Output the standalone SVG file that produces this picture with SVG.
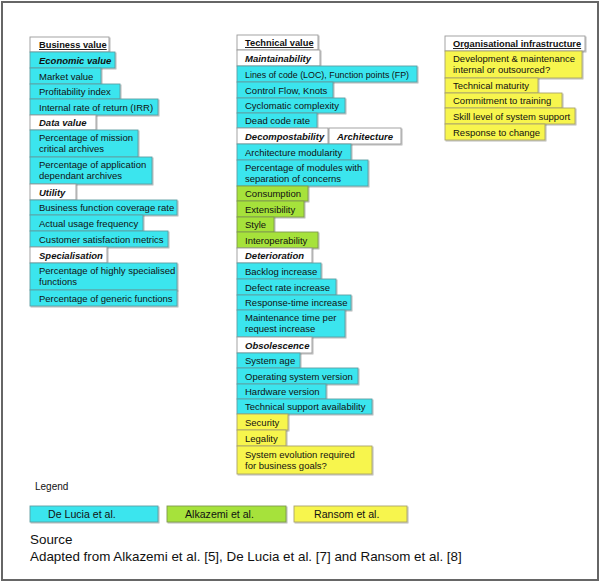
<svg xmlns="http://www.w3.org/2000/svg" width="600" height="582" viewBox="0 0 600 582">
<style>
rect.c{fill:#3be5ee;stroke:#5d9ea3;stroke-width:0.9}
rect.g{fill:#a6e23a;stroke:#7f9a50;stroke-width:0.9}
rect.y{fill:#f7f54e;stroke:#a9a46a;stroke-width:0.9}
rect.w{fill:#ffffff;stroke:#9a9a9a;stroke-width:0.9}
rect.sh{filter:url(#ds)}
text{font-family:"Liberation Sans",Arial,sans-serif;font-size:9.5px;fill:#111}
text.h{font-weight:bold;text-decoration:underline;font-size:9.3px}
text.s{font-weight:bold;font-style:italic}
text.lg{font-size:10px}
text.lb{font-size:10.6px}
text.src{font-size:13.4px}
</style>
<defs>
<filter id="ds" x="-5%" y="-10%" width="115%" height="140%">
<feDropShadow dx="1" dy="1" stdDeviation="0.6" flood-color="#000" flood-opacity="0.3"/>
</filter>
</defs>
<rect x="2" y="2" width="596" height="578" fill="#fff" stroke="#666" stroke-width="2"/>

<g id="col-business">
<g id="n-business-value"><rect class="w sh" x="30" y="37" width="79" height="15"/><text class="h" x="39" y="48">Business value</text></g>
<g id="n-economic-value"><rect class="c sh" x="30" y="52" width="85" height="16"/><text class="s" x="39" y="63.5">Economic value</text></g>
<g id="n-market-value"><rect class="c sh" x="30" y="68" width="71" height="16"/><text x="39" y="79.5">Market value</text></g>
<g id="n-profitability"><rect class="c sh" x="30" y="84" width="90" height="15"/><text x="39" y="95">Profitability index</text></g>
<g id="n-irr"><rect class="c sh" x="30" y="99" width="128" height="16"/><text x="39" y="110.5">Internal rate of return (IRR)</text></g>
<g id="n-data-value"><rect class="w sh" x="30" y="115" width="66" height="15"/><text class="s" x="39" y="126">Data value</text></g>
<g id="n-mission"><rect class="c sh" x="30" y="130" width="108" height="27"/><text x="39" y="141">Percentage of mission</text><text x="39" y="152">critical archives</text></g>
<g id="n-application"><rect class="c sh" x="30" y="157" width="122" height="27"/><text x="39" y="168">Percentage of application</text><text x="39" y="179">dependant archives</text></g>
<g id="n-utility"><rect class="w sh" x="30" y="184" width="46" height="16"/><text class="s" x="39" y="195.5">Utility</text></g>
<g id="n-coverage"><rect class="c sh" x="30" y="200" width="147" height="15"/><text x="39" y="211">Business function coverage rate</text></g>
<g id="n-usage"><rect class="c sh" x="30" y="215" width="113" height="16"/><text x="39" y="226.5">Actual usage frequency</text></g>
<g id="n-satisfaction"><rect class="c sh" x="30" y="231" width="138" height="16"/><text x="39" y="242.5">Customer satisfaction metrics</text></g>
<g id="n-specialisation"><rect class="w sh" x="30" y="247" width="77" height="16"/><text class="s" x="39" y="258.5">Specialisation</text></g>
<g id="n-highly"><rect class="c sh" x="30" y="263" width="147" height="27"/><text x="39" y="274">Percentage of highly specialised</text><text x="39" y="285">functions</text></g>
<g id="n-generic"><rect class="c sh" x="30" y="290" width="147" height="16"/><text x="39" y="301.5">Percentage of generic functions</text></g>
</g>

<g id="col-technical">
<g id="n-technical-value"><rect class="w sh" x="237" y="35" width="81" height="15"/><text class="h" x="245" y="46">Technical value</text></g>
<g id="n-maintainability"><rect class="w sh" x="237" y="50" width="83" height="16"/><text class="s" x="245" y="61.5">Maintainability</text></g>
<g id="n-loc"><rect class="c sh" x="237" y="66" width="180" height="16"/><text x="245" y="77.5" textLength="164" lengthAdjust="spacingAndGlyphs">Lines of code (LOC), Function points (FP)</text></g>
<g id="n-control-flow"><rect class="c sh" x="237" y="82" width="96" height="16"/><text x="245" y="93.5">Control Flow, Knots</text></g>
<g id="n-cyclomatic"><rect class="c sh" x="237" y="98" width="108" height="15"/><text x="245" y="109">Cyclomatic complexity</text></g>
<g id="n-dead-code"><rect class="c sh" x="237" y="113" width="80" height="15"/><text x="245" y="124">Dead code rate</text></g>
<g id="n-decompostability"><rect class="w sh" x="237" y="128" width="91" height="16"/><text class="s" x="245" y="139.5">Decompostability</text></g>
<g id="n-architecture"><rect class="w sh" x="329" y="128" width="72" height="16"/><text class="s" x="337" y="139.5">Architecture</text></g>
<g id="n-modularity"><rect class="c sh" x="237" y="144" width="114" height="16"/><text x="245" y="155.5">Architecture modularity</text></g>
<g id="n-separation"><rect class="c sh" x="237" y="160" width="131" height="26"/><text x="245" y="170.5">Percentage of modules with</text><text x="245" y="181.5">separation of concerns</text></g>
<g id="n-consumption"><rect class="g sh" x="237" y="186" width="71" height="15"/><text x="245" y="197">Consumption</text></g>
<g id="n-extensibility"><rect class="g sh" x="237" y="201" width="67" height="16"/><text x="245" y="212.5">Extensibility</text></g>
<g id="n-style"><rect class="g sh" x="237" y="217" width="37" height="15"/><text x="245" y="228">Style</text></g>
<g id="n-interoperability"><rect class="g sh" x="237" y="232" width="81" height="16"/><text x="245" y="243.5">Interoperability</text></g>
<g id="n-deterioration"><rect class="w sh" x="237" y="248" width="75" height="15"/><text class="s" x="245" y="259">Deterioration</text></g>
<g id="n-backlog"><rect class="c sh" x="237" y="263" width="84" height="16"/><text x="245" y="274.5">Backlog increase</text></g>
<g id="n-defect"><rect class="c sh" x="237" y="279" width="99" height="16"/><text x="245" y="290.5">Defect rate increase</text></g>
<g id="n-response-time"><rect class="c sh" x="237" y="295" width="114" height="15"/><text x="245" y="306">Response-time increase</text></g>
<g id="n-maintenance-time"><rect class="c sh" x="237" y="310" width="108" height="27"/><text x="245" y="321">Maintenance time per</text><text x="245" y="332">request increase</text></g>
<g id="n-obsolescence"><rect class="w sh" x="237" y="337" width="75" height="16"/><text class="s" x="245" y="348.5">Obsolescence</text></g>
<g id="n-system-age"><rect class="c sh" x="237" y="353" width="63" height="15"/><text x="245" y="364">System age</text></g>
<g id="n-os-version"><rect class="c sh" x="237" y="368" width="121" height="16"/><text x="245" y="379.5">Operating system version</text></g>
<g id="n-hardware"><rect class="c sh" x="237" y="384" width="89" height="15"/><text x="245" y="395">Hardware version</text></g>
<g id="n-support"><rect class="c sh" x="237" y="399" width="135" height="15"/><text x="245" y="410">Technical support availability</text></g>
<g id="n-security"><rect class="y sh" x="237" y="414" width="51" height="16"/><text x="245" y="425.5">Security</text></g>
<g id="n-legality"><rect class="y sh" x="237" y="430" width="49" height="16"/><text x="245" y="441.5">Legality</text></g>
<g id="n-evolution"><rect class="y sh" x="237" y="446" width="135" height="28"/><text x="245" y="458">System evolution required</text><text x="245" y="469">for business goals?</text></g>
</g>

<g id="col-organisational">
<g id="n-org-infra"><rect class="w sh" x="445" y="36" width="140" height="15"/><text class="h" x="453" y="47">Organisational infrastructure</text></g>
<g id="n-dev-maint"><rect class="y sh" x="445" y="51" width="137" height="27"/><text x="453" y="62">Development &amp; maintenance</text><text x="453" y="73">internal or outsourced?</text></g>
<g id="n-tech-maturity"><rect class="y sh" x="445" y="78" width="93" height="15"/><text x="453" y="89">Technical maturity</text></g>
<g id="n-training"><rect class="y sh" x="445" y="93" width="117" height="15"/><text x="453" y="104">Commitment to training</text></g>
<g id="n-skill"><rect class="y sh" x="445" y="108" width="130" height="16"/><text x="453" y="119.5">Skill level of system support</text></g>
<g id="n-response-change"><rect class="y sh" x="445" y="124" width="100" height="16"/><text x="453" y="135.5">Response to change</text></g>
</g>

<g id="legend">
<text class="lg" x="35" y="490">Legend</text>
<g id="lg-delucia"><rect class="c sh" x="30" y="506" width="128" height="16"/><text class="lb" x="48" y="518">De Lucia et al.</text></g>
<g id="lg-alkazemi"><rect class="g sh" x="167" y="506" width="119" height="16"/><text class="lb" x="185" y="518">Alkazemi et al.</text></g>
<g id="lg-ransom"><rect class="y sh" x="294" y="506" width="113" height="16"/><text class="lb" x="314" y="518">Ransom et al.</text></g>
</g>

<g id="source">
<text class="src" x="30" y="544">Source</text>
<text class="src" x="30" y="561">Adapted from Alkazemi et al. [5], De Lucia et al. [7] and Ransom et al. [8]</text>
</g>
</svg>
